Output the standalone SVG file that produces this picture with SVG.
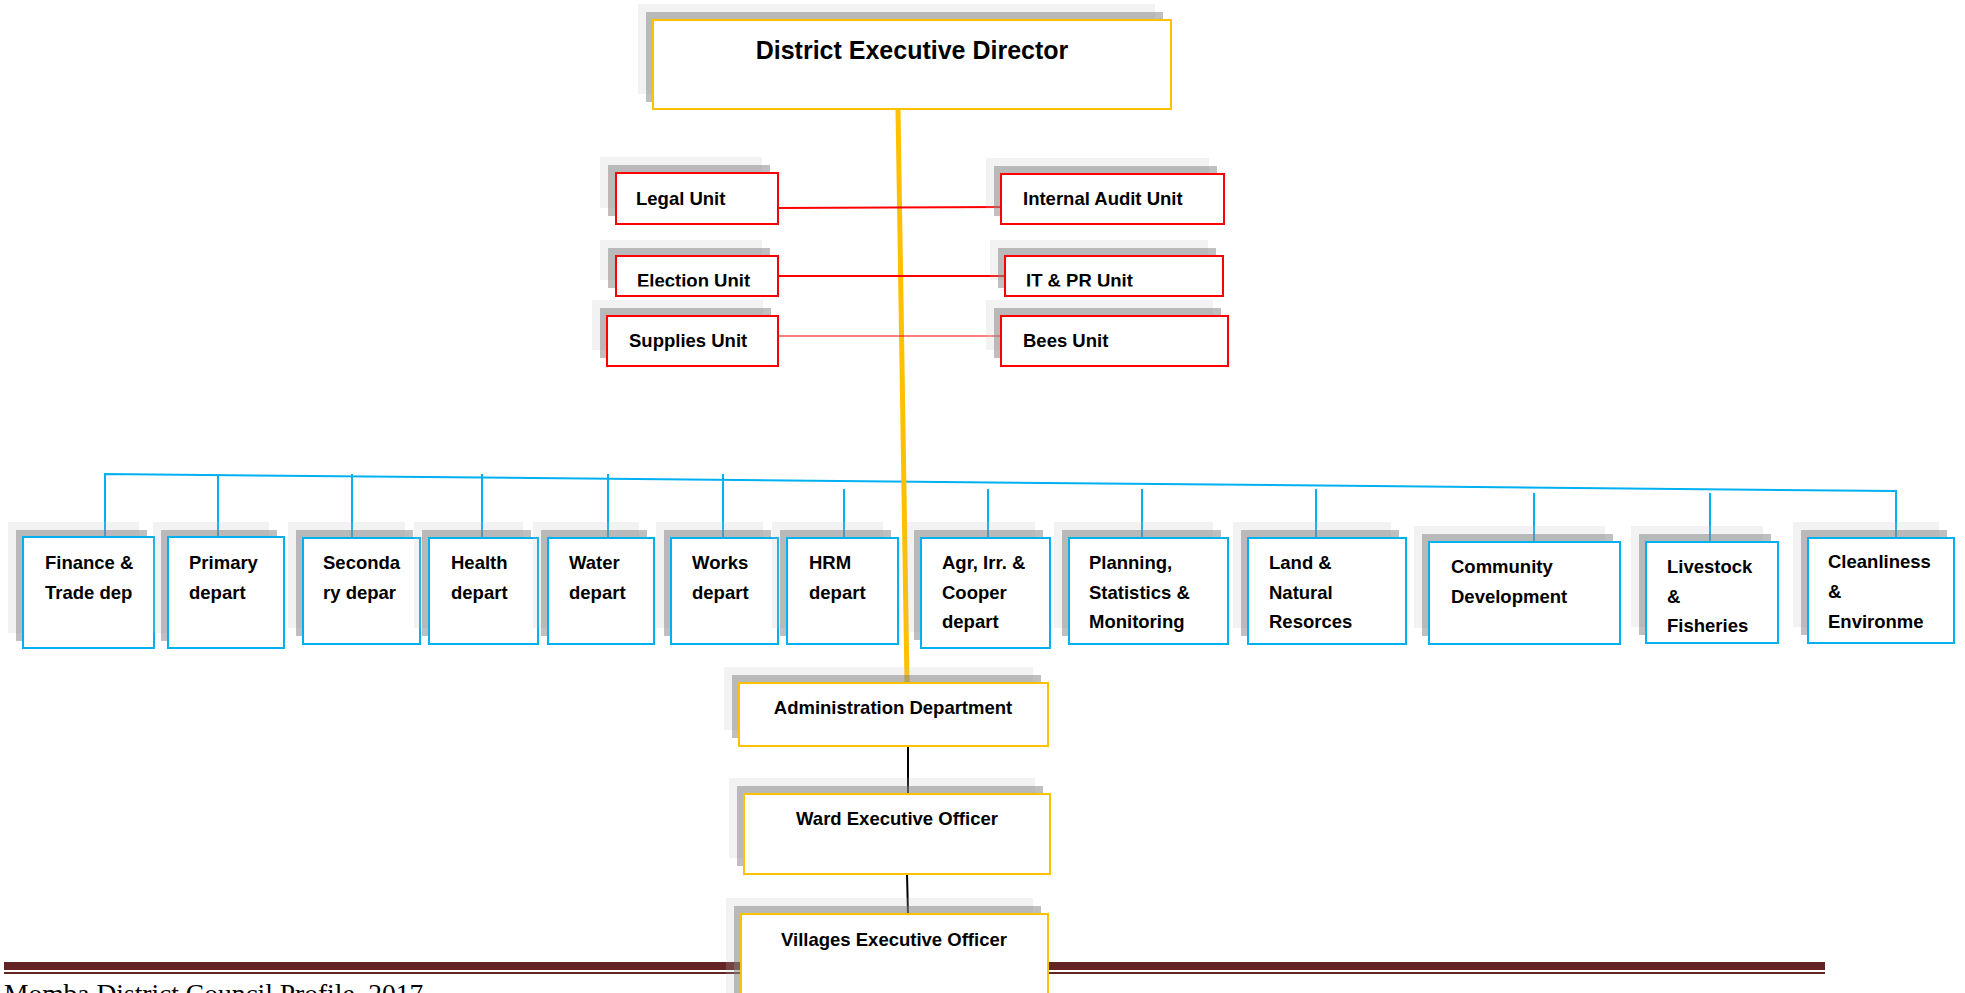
<svg xmlns="http://www.w3.org/2000/svg" width="1965" height="993" viewBox="0 0 1965 993">
<style>
.l{fill:#BFBFBF;fill-opacity:.2}
.d{fill:#7F7F7F;fill-opacity:.5}
.by{fill:#fff;stroke:#FFC000;stroke-width:2}
.br{fill:#fff;stroke:#FF0000;stroke-width:2}
.bb{fill:#fff;stroke:#00B0F0;stroke-width:2}
text{font-family:"Liberation Sans",Arial,sans-serif;font-weight:bold;fill:#000;font-size:18.5px}
.c{text-anchor:middle}
.ft{font-family:"Liberation Serif","Times New Roman",serif;font-weight:normal;font-size:27.5px}
.cb{stroke:#00B0F0;stroke-width:2;fill:none}
.cr{stroke:#FF0000;stroke-width:2;fill:none}
</style>
<defs>
<clipPath id="clipE"><rect x="600" y="250" width="200" height="36.5"/></clipPath>
<clipPath id="clipI"><rect x="1000" y="250" width="240" height="36.5"/></clipPath>
</defs>
<g id="footer">
<rect x="4" y="962" width="1821" height="8" fill="#632423"/>
<rect x="4" y="972" width="1821" height="2" fill="#632423"/>
<text class="ft" x="4" y="1003">Momba District Council Profile, 2017</text>
</g>
<g id="connectors">
<polyline class="cb" points="105,537 105,474 1896,491 1896,538"/>
<line class="cb" x1="218" y1="474" x2="218" y2="537"/>
<line class="cb" x1="352" y1="474" x2="352" y2="538"/>
<line class="cb" x1="482" y1="474" x2="482" y2="538"/>
<line class="cb" x1="608" y1="474" x2="608" y2="542"/>
<line class="cb" x1="723" y1="474" x2="723" y2="538"/>
<line class="cb" x1="844" y1="489" x2="844" y2="538"/>
<line class="cb" x1="988" y1="489" x2="988" y2="538"/>
<line class="cb" x1="1142" y1="489" x2="1142" y2="538"/>
<line class="cb" x1="1316" y1="489" x2="1316" y2="538"/>
<line class="cb" x1="1534" y1="493" x2="1534" y2="542"/>
<line class="cb" x1="1710" y1="493" x2="1710" y2="542"/>
<line x1="898" y1="109" x2="907" y2="683" stroke="#FFC000" stroke-width="5"/>
<line class="cr" x1="778" y1="208" x2="1003" y2="207"/>
<line class="cr" x1="778" y1="276" x2="1005" y2="276"/>
<line class="cr" x1="778" y1="336" x2="1001" y2="336" stroke-opacity=".5"/>
<line x1="908" y1="746" x2="908" y2="794" stroke="#000" stroke-width="2"/>
<line x1="907" y1="874" x2="908" y2="914" stroke="#000" stroke-width="2"/>
</g>
<g id="ded">
<rect class="l" x="638" y="4" width="517" height="90"/>
<rect class="d" x="646" y="12" width="517" height="90"/>
<rect class="by" x="653" y="20" width="518" height="89"/>
<text class="c" x="912" y="59" style="font-size:25px">District Executive Director</text>
</g>
<g id="legal">
<rect class="l" x="600" y="157" width="162" height="51"/>
<rect class="d" x="608" y="165" width="162" height="51"/>
<rect class="br" x="616" y="173" width="162" height="51"/>
<text x="636" y="205">Legal Unit</text>
</g>
<g id="audit">
<rect class="l" x="986" y="158" width="223" height="50"/>
<rect class="d" x="994" y="166" width="223" height="50"/>
<rect class="br" x="1001" y="174" width="223" height="50"/>
<text x="1023" y="205">Internal Audit Unit</text>
</g>
<g id="election">
<rect class="l" x="600" y="240" width="162" height="40"/>
<rect class="d" x="608" y="248" width="162" height="40"/>
<rect class="br" x="616" y="256" width="162" height="40"/>
<text x="637" y="287" clip-path="url(#clipE)">Election Unit</text>
</g>
<g id="itpr">
<rect class="l" x="990" y="240" width="218" height="40"/>
<rect class="d" x="998" y="248" width="218" height="40"/>
<rect class="br" x="1005" y="256" width="218" height="40"/>
<text x="1026" y="287" clip-path="url(#clipI)">IT &amp; PR Unit</text>
</g>
<g id="supplies">
<rect class="l" x="592" y="300" width="171" height="50"/>
<rect class="d" x="600" y="308" width="171" height="50"/>
<rect class="br" x="607" y="316" width="171" height="50"/>
<text x="629" y="347">Supplies Unit</text>
</g>
<g id="bees">
<rect class="l" x="986" y="300" width="227" height="50"/>
<rect class="d" x="994" y="308" width="227" height="50"/>
<rect class="br" x="1001" y="316" width="227" height="50"/>
<text x="1023" y="347">Bees Unit</text>
</g>
<g id="finance">
<rect class="l" x="8" y="522" width="131" height="111"/>
<rect class="d" x="16" y="530" width="131" height="111"/>
<rect class="bb" x="23" y="537" width="131" height="111"/>
<text x="45" y="569">Finance &amp;<tspan x="45" dy="29.5">Trade dep</tspan></text>
</g>
<g id="primary">
<rect class="l" x="153" y="522" width="116" height="111"/>
<rect class="d" x="161" y="530" width="116" height="111"/>
<rect class="bb" x="168" y="537" width="116" height="111"/>
<text x="189" y="569">Primary<tspan x="189" dy="29.5">depart</tspan></text>
</g>
<g id="secondary">
<rect class="l" x="288" y="522" width="117" height="106"/>
<rect class="d" x="296" y="530" width="117" height="106"/>
<rect class="bb" x="303" y="538" width="117" height="106"/>
<text x="323" y="569">Seconda<tspan x="323" dy="29.5">ry depar</tspan></text>
</g>
<g id="health">
<rect class="l" x="414" y="522" width="109" height="106"/>
<rect class="d" x="422" y="530" width="109" height="106"/>
<rect class="bb" x="429" y="538" width="109" height="106"/>
<text x="451" y="569">Health<tspan x="451" dy="29.5">depart</tspan></text>
</g>
<g id="water">
<rect class="l" x="533" y="522" width="106" height="106"/>
<rect class="d" x="541" y="530" width="106" height="106"/>
<rect class="bb" x="548" y="538" width="106" height="106"/>
<text x="569" y="569">Water<tspan x="569" dy="29.5">depart</tspan></text>
</g>
<g id="works">
<rect class="l" x="656" y="522" width="107" height="106"/>
<rect class="d" x="664" y="530" width="107" height="106"/>
<rect class="bb" x="671" y="538" width="107" height="106"/>
<text x="692" y="569">Works<tspan x="692" dy="29.5">depart</tspan></text>
</g>
<g id="hrm">
<rect class="l" x="772" y="522" width="111" height="106"/>
<rect class="d" x="780" y="530" width="111" height="106"/>
<rect class="bb" x="787" y="538" width="111" height="106"/>
<text x="809" y="569">HRM<tspan x="809" dy="29.5">depart</tspan></text>
</g>
<g id="agr">
<rect class="l" x="906" y="522" width="129" height="110"/>
<rect class="d" x="914" y="530" width="129" height="110"/>
<rect class="bb" x="921" y="538" width="129" height="110"/>
<text x="942" y="569">Agr, Irr. &amp;<tspan x="942" dy="29.5">Cooper</tspan><tspan x="942" dy="29.5">depart</tspan></text>
</g>
<g id="planning">
<rect class="l" x="1054" y="522" width="159" height="106"/>
<rect class="d" x="1062" y="530" width="159" height="106"/>
<rect class="bb" x="1069" y="538" width="159" height="106"/>
<text x="1089" y="569">Planning,<tspan x="1089" dy="29.5">Statistics &amp;</tspan><tspan x="1089" dy="29.5">Monitoring</tspan></text>
</g>
<g id="land">
<rect class="l" x="1233" y="522" width="158" height="106"/>
<rect class="d" x="1241" y="530" width="158" height="106"/>
<rect class="bb" x="1248" y="538" width="158" height="106"/>
<text x="1269" y="569">Land &amp;<tspan x="1269" dy="29.5">Natural</tspan><tspan x="1269" dy="29.5">Resorces</tspan></text>
</g>
<g id="community">
<rect class="l" x="1414" y="526" width="191" height="102"/>
<rect class="d" x="1422" y="534" width="191" height="102"/>
<rect class="bb" x="1429" y="542" width="191" height="102"/>
<text x="1451" y="573">Community<tspan x="1451" dy="29.5">Development</tspan></text>
</g>
<g id="livestock">
<rect class="l" x="1631" y="526" width="132" height="101"/>
<rect class="d" x="1639" y="534" width="132" height="101"/>
<rect class="bb" x="1646" y="542" width="132" height="101"/>
<text x="1667" y="573">Livestock<tspan x="1667" dy="29.5">&amp;</tspan><tspan x="1667" dy="29.5">Fisheries</tspan></text>
</g>
<g id="cleanliness">
<rect class="l" x="1793" y="522" width="146" height="105"/>
<rect class="d" x="1801" y="530" width="146" height="105"/>
<rect class="bb" x="1808" y="538" width="146" height="105"/>
<text x="1828" y="568">Cleanliness<tspan x="1828" dy="30">&amp;</tspan><tspan x="1828" dy="30">Environme</tspan></text>
</g>
<g id="admin">
<rect class="l" x="724" y="667" width="309" height="63"/>
<rect class="d" x="732" y="675" width="309" height="63"/>
<rect class="by" x="739" y="683" width="309" height="63"/>
<text class="c" x="893" y="714">Administration Department</text>
</g>
<g id="ward">
<rect class="l" x="729" y="778" width="306" height="80"/>
<rect class="d" x="737" y="786" width="306" height="80"/>
<rect class="by" x="744" y="794" width="306" height="80"/>
<text class="c" x="897" y="825">Ward Executive Officer</text>
</g>
<g id="villages">
<rect class="l" x="726" y="898" width="307" height="110"/>
<rect class="d" x="734" y="906" width="307" height="110"/>
<rect class="by" x="741" y="914" width="307" height="110"/>
<text class="c" x="894" y="946">Villages Executive Officer</text>
</g>
</svg>
